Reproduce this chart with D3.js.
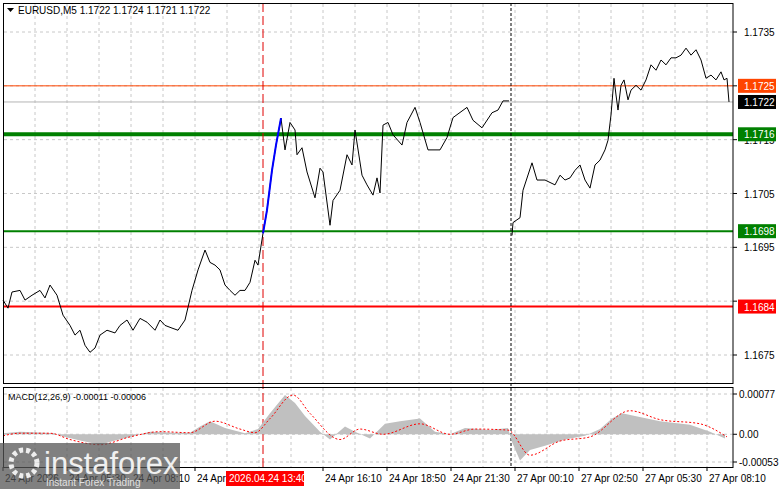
<!DOCTYPE html>
<html><head><meta charset="utf-8">
<script src="https://cdn.jsdelivr.net/npm/d3@7"></script>
<style>body{margin:0;background:#fff}svg{display:block;font-family:"Liberation Sans",Arial,sans-serif}</style>
</head><body>
<svg id="c" width="781" height="489"></svg>
<script>
// price path, [bar, price] (5 min bars, bar 0 = 24 Apr 02:50)
var friday = [[0,1.16852],[2.5,1.16837],[4.5,1.16867],[8.5,1.16870],[11,1.16852],[14.5,1.16861],[18.5,1.16870],[21,1.16856],[23.5,1.16880],[27,1.16861],[30,1.16824],[33.5,1.16805],[36,1.16787],[38.5,1.16796],[41,1.16768],[43.5,1.16755],[46,1.16763],[48.5,1.16787],[52,1.16796],[56,1.16791],[58.5,1.16805],[62,1.16815],[65,1.16796],[68.5,1.16818],[72,1.16811],[76,1.16796],[78.5,1.16815],[81,1.16805],[84.5,1.16800],[87.5,1.16796],[91,1.16815],[94.5,1.16870],[97.5,1.16908],[101,1.16945],[103.5,1.16922],[106,1.16917],[108.5,1.16908],[111,1.16880],[113.5,1.16870],[116,1.16861],[118.5,1.16870],[121,1.16870],[123.5,1.16885],[126,1.16926],[127.5,1.16917],[130,1.16976],[132,1.17019],[134.5,1.17093],[136.5,1.17140],[139,1.17190],[141,1.17131],[143.5,1.17182],[146,1.17168],[147,1.17122],[149.5,1.17135],[152,1.17090],[156,1.17042],[158.5,1.17097],[160,1.17090],[163.5,1.16991],[165,1.17037],[168.5,1.17056],[172,1.17122],[174.5,1.17103],[176,1.17168],[179.5,1.17084],[182,1.17066],[185,1.17047],[187,1.17079],[188.5,1.17051],[190,1.17177],[192.5,1.17182],[195,1.17159],[199.5,1.17140],[202,1.17182],[206,1.17210],[208.5,1.17182],[212.5,1.17131],[218.5,1.17131],[222,1.17154],[225,1.17191],[232,1.17210],[235,1.17186],[239.5,1.17172],[244.5,1.17200],[247.5,1.17205],[250,1.17222],[253,1.17222]];
var monday = [[254.5,1.16972],[255,1.16996],[258.5,1.17005],[260,1.17056],[264.5,1.17107],[267,1.17075],[271,1.17075],[276,1.17066],[278.5,1.17084],[281,1.17075],[283.5,1.17079],[286,1.17093],[288.5,1.17103],[291,1.17075],[293.5,1.17060],[296,1.17103],[298.5,1.17112],[301,1.17131],[302.5,1.17149],[304,1.17196],[305.5,1.17264],[306.5,1.17233],[307.5,1.17205],[309,1.17251],[310.5,1.17261],[312.5,1.17224],[314,1.17242],[316.5,1.17251],[319,1.17242],[321.5,1.17261],[324,1.17289],[326.5,1.17279],[329,1.17298],[331.5,1.17289],[334,1.17302],[336.5,1.17302],[339,1.17307],[341.5,1.17320],[344,1.17307],[346.5,1.17317],[349,1.17298],[351.5,1.17264],[354,1.17270],[356.5,1.17261],[359,1.17276],[360.5,1.17261],[362,1.17264],[363,1.17220]];
var blueStart = 130, blueEnd = 139;
// MACD histogram and signal, [bar, value]
var macdHist = [[0,0.00002],[8.5,0.00005],[21,0.00003],[26,0.00002],[28.5,-0.00003],[38.5,-0.00012],[48.5,-0.0002],[56,-0.00012],[63.5,-0.00005],[73.5,0.00005],[86,0.00003],[93.5,0.00003],[98.5,0.00015],[103.5,0.00025],[111,0.00012],[121,0.00002],[127.5,0.0001],[133.5,0.0004],[141,0.00075],[146,0.0006],[151,0.00035],[158.5,0.00005],[163.5,-0.0001],[171,0.00015],[176,0.00005],[183.5,-0.00008],[191,0.0002],[198.5,0.00025],[208.5,0.0003],[216,0.00005],[223.5,0.0],[231,0.00012],[243.5,0.00008],[252.5,0.00012],[254.5,-0.00015],[258.5,-0.0005],[263.5,-0.0003],[271,-0.00022],[281,-0.0001],[291,-0.00003],[298.5,0.0001],[304.5,0.0003],[309.5,0.0004],[316,0.00035],[328.5,0.00025],[343.5,0.00018],[353.5,0.00005],[361,-0.00008]];
var macdSignal = [[0,-0.00003],[8.5,0.00002],[23.5,0.00002],[33.5,-0.0001],[48.5,-0.0002],[63.5,-0.00005],[78.5,0.00005],[93.5,0.00003],[106,0.00025],[118.5,0.0001],[126,0.00003],[133.5,0.0003],[145,0.00075],[153.5,0.0004],[168.5,-0.0001],[178.5,0.0001],[190,0.0],[208.5,0.0002],[223.5,0.0],[236,0.0001],[252.5,0.00008],[263.5,-0.0004],[278.5,-0.00013],[293.5,-0.00005],[313.5,0.00045],[328.5,0.00028],[348.5,0.0002],[362,-0.00005]];
var priceTicks = [1.1735, 1.1725, 1.1715, 1.1705, 1.1695, 1.1685, 1.1675];
var macdTicks = [0.00077, 0, -0.00053];
var timeLabels = [[0,"24 Apr 2026"],[32,"24 Apr 05:30"],[64,"24 Apr 08:10"],[96,"24 Apr 10:50"],[160,"24 Apr 16:10"],[192,"24 Apr 18:50"],[224,"24 Apr 21:30"],[256,"27 Apr 00:10"],[288,"27 Apr 02:50"],[320,"27 Apr 05:30"],[352,"27 Apr 08:10"]];
var levels = [
  {v: 1.1725, c: "#ff4500", w: 1, box: "#ff4500"},
  {v: 1.1722, c: "#b4b4b4", w: 1, box: "#000"},
  {v: 1.1716, c: "#008000", w: 4, box: "#008000"},
  {v: 1.1698, c: "#008000", w: 2, box: "#008000"},
  {v: 1.1684, c: "#ff0000", w: 2, box: "#ff0000"}
];

var svg = d3.select("#c");
var x = d3.scaleLinear().domain([0, 362]).range([3, 727]);
var y = d3.scaleLinear().domain([1.1675, 1.1735]).range([355, 32]);
var ym = d3.scaleLinear().domain([-0.00053, 0.00077]).range([462, 394]);
var right = 733;

// grid
var g = svg.append("g").attr("stroke", "#c8c8c8").attr("stroke-dasharray", "3,3");
for (var b = 16; b < 364; b += 16) {
  g.append("line").attr("x1", x(b)).attr("x2", x(b)).attr("y1", 4).attr("y2", 383);
  g.append("line").attr("x1", x(b)).attr("x2", x(b)).attr("y1", 388).attr("y2", 467);
}
priceTicks.forEach(function (t) {
  g.append("line").attr("x1", 4).attr("x2", right).attr("y1", y(t)).attr("y2", y(t));
});
macdTicks.forEach(function (t) {
  g.append("line").attr("x1", 4).attr("x2", right).attr("y1", ym(t)).attr("y2", ym(t));
});

// level lines
levels.forEach(function (l) {
  svg.append("line").attr("x1", 3).attr("x2", right).attr("y1", y(l.v)).attr("y2", y(l.v))
    .attr("stroke", l.c).attr("stroke-width", l.w);
});

// vertical markers
svg.append("line").attr("x1", x(130)).attr("x2", x(130)).attr("y1", 3).attr("y2", 467)
  .attr("stroke", "#e00000").attr("stroke-dasharray", "9,4");
svg.append("line").attr("x1", x(254)).attr("x2", x(254)).attr("y1", 3).attr("y2", 467)
  .attr("stroke", "#000").attr("stroke-dasharray", "3,2");

// price line
var line = d3.line().x(function (d) { return x(d[0]); }).y(function (d) { return y(d[1]); });
[friday, monday].forEach(function (seg) {
  svg.append("path").attr("d", line(seg)).attr("fill", "none").attr("stroke", "#000").attr("stroke-width", 1);
});
svg.append("path").attr("d", line(friday.filter(function (d) { return d[0] >= blueStart && d[0] <= blueEnd; })))
  .attr("fill", "none").attr("stroke", "#0000ff").attr("stroke-width", 2);

// MACD
svg.append("path")
  .attr("d", d3.area().x(function (d) { return x(d[0]); }).y0(ym(0)).y1(function (d) { return ym(d[1]); })(macdHist))
  .attr("fill", "#c0c0c0");
svg.append("path")
  .attr("d", d3.line().curve(d3.curveMonotoneX).x(function (d) { return x(d[0]); }).y(function (d) { return ym(d[1]); })(macdSignal))
  .attr("fill", "none").attr("stroke", "#ff0000").attr("stroke-dasharray", "2,2");

// frames
svg.append("rect").attr("x", 3.5).attr("y", 3.5).attr("width", right - 3.5).attr("height", 380).attr("fill", "none").attr("stroke", "#000");
svg.append("rect").attr("x", 3.5).attr("y", 387.5).attr("width", right - 3.5).attr("height", 80).attr("fill", "none").attr("stroke", "#000");

// price axis
var ax = svg.append("g").attr("font-size", 10).attr("fill", "#000");
priceTicks.forEach(function (t) {
  ax.append("line").attr("x1", right).attr("x2", right + 4).attr("y1", y(t)).attr("y2", y(t)).attr("stroke", "#000");
  if (t === 1.1725 || t === 1.1685) return; // covered by level boxes
  ax.append("text").attr("x", 744).attr("y", y(t) + 4).text(t.toFixed(4));
});
macdTicks.forEach(function (t) {
  ax.append("line").attr("x1", right).attr("x2", right + 4).attr("y1", ym(t)).attr("y2", ym(t)).attr("stroke", "#000");
  ax.append("text").attr("x", 739).attr("y", ym(t) + 4).text(t === 0 ? "0.00" : t.toFixed(5));
});
levels.forEach(function (l) {
  svg.append("rect").attr("x", 738).attr("y", y(l.v) - 7).attr("width", 38).attr("height", 14).attr("fill", l.box);
  svg.append("text").attr("x", 744).attr("y", y(l.v) + 4).attr("font-size", 10).attr("fill", "#fff").text(l.v.toFixed(4));
});

// time axis
timeLabels.forEach(function (t) {
  svg.append("line").attr("x1", x(t[0])).attr("x2", x(t[0])).attr("y1", 467).attr("y2", 471).attr("stroke", "#000");
  svg.append("text").attr("x", x(t[0]) + 2).attr("y", 482).attr("font-size", 10).text(t[1]);
});
svg.append("rect").attr("x", 226).attr("y", 471).attr("width", 78).attr("height", 15).attr("fill", "#ff0000");
svg.append("text").attr("x", 229).attr("y", 482).attr("font-size", 10).attr("fill", "#fff").text("2026.04.24 13:40");

// titles
svg.append("path").attr("d", "M7,8 L14,8 L10.5,12 Z").attr("fill", "#000");
svg.append("text").attr("x", 18).attr("y", 14).attr("font-size", 10).text("EURUSD,M5  1.1722 1.1724 1.1721 1.1722");
svg.append("text").attr("x", 8).attr("y", 400).attr("font-size", 9).text("MACD(12,26,9) -0.00011 -0.00006");

// watermark
svg.append("rect").attr("x", 0).attr("y", 443).attr("width", 180).attr("height", 46).attr("fill", "#555").attr("opacity", 0.75);
svg.append("circle").attr("cx", 24).attr("cy", 463).attr("r", 13).attr("fill", "none").attr("stroke", "#eee").attr("stroke-width", 5).attr("stroke-dasharray", "4,3");
svg.append("text").attr("x", 44).attr("y", 474).attr("font-size", 31).attr("fill", "#f0f0f0").text("instaforex");
svg.append("text").attr("x", 46).attr("y", 486).attr("font-size", 10).attr("fill", "#e0e0e0").text("Instant Forex Trading");
</script>
</body></html>
